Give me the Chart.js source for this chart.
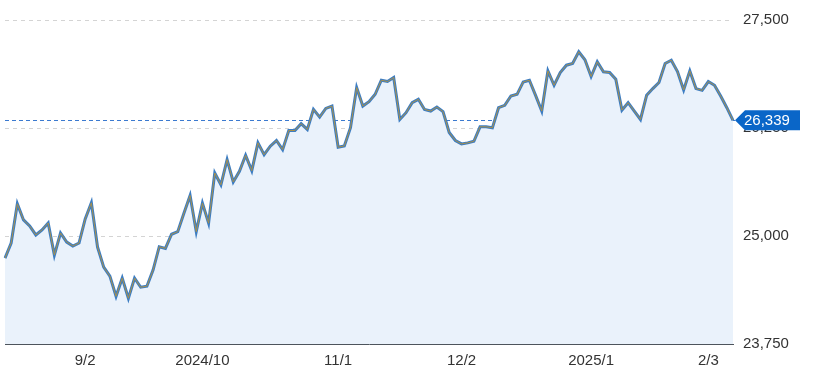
<!DOCTYPE html>
<html>
<head>
<meta charset="utf-8">
<script src="https://cdn.jsdelivr.net/npm/chart.js@4"></script>
<style>
html,body{margin:0;padding:0;background:#fff;}
#wrap{width:814px;height:374px;}
</style>
</head>
<body>
<div id="wrap"><canvas id="c" width="814" height="374"></canvas></div>
<script>
const dates = [
"2024/08/14","2024/08/15","2024/08/16","2024/08/19","2024/08/20","2024/08/21","2024/08/22","2024/08/23","2024/08/26","2024/08/27","2024/08/28","2024/08/29","2024/08/30",
"2024/09/02","2024/09/03","2024/09/04","2024/09/05","2024/09/06","2024/09/09","2024/09/10","2024/09/11","2024/09/12","2024/09/13","2024/09/17","2024/09/18","2024/09/19","2024/09/20","2024/09/24","2024/09/25","2024/09/26","2024/09/27","2024/09/30",
"2024/10/01","2024/10/02","2024/10/03","2024/10/04","2024/10/07","2024/10/08","2024/10/09","2024/10/10","2024/10/11","2024/10/15","2024/10/16","2024/10/17","2024/10/18","2024/10/21","2024/10/22","2024/10/23","2024/10/24","2024/10/25","2024/10/28","2024/10/29","2024/10/30","2024/10/31",
"2024/11/01","2024/11/05","2024/11/06","2024/11/07","2024/11/08","2024/11/11","2024/11/12","2024/11/13","2024/11/14","2024/11/15","2024/11/18","2024/11/19","2024/11/20","2024/11/21","2024/11/22","2024/11/25","2024/11/26","2024/11/27","2024/11/28","2024/11/29",
"2024/12/02","2024/12/03","2024/12/04","2024/12/05","2024/12/06","2024/12/09","2024/12/10","2024/12/11","2024/12/12","2024/12/13","2024/12/16","2024/12/17","2024/12/18","2024/12/19","2024/12/20","2024/12/23","2024/12/24","2024/12/25","2024/12/26","2024/12/27","2024/12/30",
"2025/01/06","2025/01/07","2025/01/08","2025/01/09","2025/01/10","2025/01/14","2025/01/15","2025/01/16","2025/01/17","2025/01/20","2025/01/21","2025/01/22","2025/01/23","2025/01/24","2025/01/27","2025/01/28","2025/01/29","2025/01/30","2025/01/31",
"2025/02/03","2025/02/04","2025/02/05","2025/02/06","2025/02/07"
];

const closeValues = [
24744,24919,25372,25186,25116,25012,25070,25151,24779,25035,24930,24884,24919,
25198,25384,24872,24639,24535,24302,24512,24279,24512,24407,24419,24605,24876,24857,25020,25050,25264,25469,25050,
25380,25148,25729,25593,25884,25625,25748,25934,25756,26078,25942,26039,26105,26000,26221,26221,26300,26233,26465,26376,26477,26504,
26027,26043,26253,26718,26504,26555,26640,26803,26788,26834,26349,26427,26543,26582,26465,26446,26492,26439,26198,26105,
26066,26078,26097,26264,26264,26252,26485,26512,26620,26640,26783,26803,26628,26446,26911,26745,26892,26977,26997,27132,27039,
26846,27016,26900,26892,26814,26457,26543,26446,26349,26628,26706,26776,26997,27035,26904,26690,26911,26706,26686,
26788,26745,26620,26485,26339
];

const tickDates = ["2024/09/02","2024/10/01","2024/11/01","2024/12/02","2025/01/06","2025/02/03"];
const tickTexts = ["9/2","2024/10","11/1","12/2","2025/1","2/3"];

const yMin = 23750, yMax = 27500, yStep = 1250;
const lastValue = closeValues[closeValues.length - 1];

const FONT = '"Liberation Sans", Arial, sans-serif';

const lastValuePlugin = {
  id: 'lastValue',
  beforeDatasetsDraw(chart) {
    const {ctx, chartArea, scales} = chart;
    const y = Math.round(scales.y.getPixelForValue(lastValue)) + 0.5;
    ctx.save();
    ctx.strokeStyle = '#3b7ad0';
    ctx.lineWidth = 1;
    ctx.setLineDash([4, 3]);
    ctx.beginPath();
    ctx.moveTo(chartArea.left, y);
    ctx.lineTo(chartArea.right + 2, y);
    ctx.stroke();
    ctx.restore();
  },
  afterDraw(chart) {
    const {ctx, chartArea, scales} = chart;
    const y = scales.y.getPixelForValue(lastValue);
    const tip = chartArea.right + 2;
    const bx = tip + 10, bw = 55, bh = 20;
    ctx.save();
    ctx.fillStyle = '#0a66c8';
    ctx.beginPath();
    ctx.moveTo(tip, y);
    ctx.lineTo(bx, y - bh / 2);
    ctx.lineTo(bx + bw, y - bh / 2);
    ctx.lineTo(bx + bw, y + bh / 2);
    ctx.lineTo(bx, y + bh / 2);
    ctx.closePath();
    ctx.fill();
    ctx.fillStyle = '#ffffff';
    ctx.font = '15px ' + FONT;
    ctx.textBaseline = 'middle';
    ctx.textAlign = 'left';
    ctx.fillText(lastValue.toLocaleString('en-US'), tip + 9, y + 1);
    ctx.restore();
  }
};

new Chart(document.getElementById('c'), {
  type: 'line',
  data: {
    labels: dates,
    datasets: [
      {
        data: closeValues,
        borderColor: '#a8904c',
        borderWidth: 1,
        pointRadius: 0,
        tension: 0,
        fill: false
      },
      {
        data: closeValues,
        borderColor: '#3d7dc2',
        borderWidth: 3,
        pointRadius: 0,
        tension: 0,
        fill: 'start',
        backgroundColor: '#eaf2fb'
      }
    ]
  },
  options: {
    responsive: false,
    animation: false,
    events: [],
    layout: { padding: { left: 5, top: 20, right: 0, bottom: 0 } },
    plugins: { legend: { display: false }, tooltip: { enabled: false } },
    scales: {
      x: {
        type: 'category',
        offset: false,
        grid: { display: false, drawTicks: false },
        border: { display: true, color: '#4d545c', width: 1 },
        ticks: {
          autoSkip: false,
          maxRotation: 0,
          minRotation: 0,
          padding: 8,
          color: '#333',
          font: { size: 15, family: FONT },
          callback: function(value) {
            const i = tickDates.indexOf(dates[value]);
            return i >= 0 ? tickTexts[i] : '';
          }
        },
        afterBuildTicks(scale) {
          scale.ticks = scale.ticks.filter(t => tickDates.includes(dates[t.value]));
        },
        afterFit(scale) { scale.height = 30; }
      },
      y: {
        position: 'right',
        min: yMin,
        max: yMax,
        grid: { color: '#d4d4d4', drawTicks: false, lineWidth: 1 },
        border: { display: false, dash: [4, 4] },
        ticks: {
          stepSize: yStep,
          padding: 10,
          color: '#333',
          font: { size: 15, family: FONT },
          callback: v => v.toLocaleString('en-US')
        },
        afterFit(scale) { scale.width = 81; }
      }
    }
  },
  plugins: [lastValuePlugin]
});
</script>
</body>
</html>
